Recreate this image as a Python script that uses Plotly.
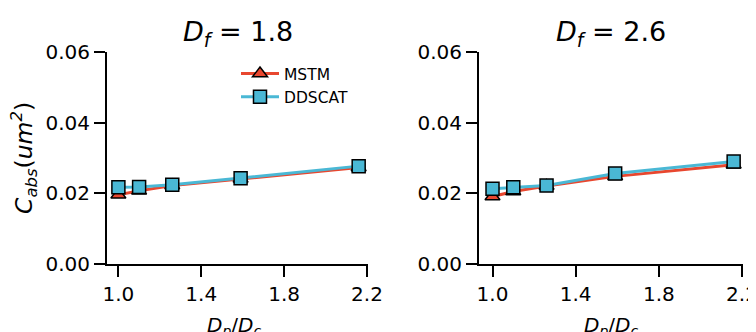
import plotly.graph_objects as go

x_vals = [1.0, 1.1, 1.26, 1.59, 2.16]
mstm_18 = [0.0196, 0.0207, 0.0222, 0.0241, 0.0273]
ddscat_18 = [0.0217, 0.0218, 0.0224, 0.0243, 0.0277]
mstm_26 = [0.0191, 0.0205, 0.0221, 0.0248, 0.0281]
ddscat_26 = [0.0213, 0.0217, 0.0222, 0.0256, 0.0290]
titles = ["<i>D<sub>f</sub></i> = 1.8", "<i>D<sub>f</sub></i> = 2.6"]
x_ticks = [1.0, 1.4, 1.8, 2.2]
x_tick_text = ["1.0", "1.4", "1.8", "2.2"]
y_ticks = [0.0, 0.02, 0.04, 0.06]
y_tick_text = ["0.00", "0.02", "0.04", "0.06"]

RED = "#e8472f"
BLUE = "#4ab8d5"
FONT = "DejaVu Sans"

# page body has an 8px margin; size and place the figure accordingly
OFF = 8
W, H = 756 - OFF, 332 - OFF


def px(x):
    return (x - OFF) / W


def py(y):
    return 1 - (y - OFF) / H


fig = go.Figure()

panels = [("x", "y", mstm_18, ddscat_18, True), ("x2", "y2", mstm_26, ddscat_26, False)]
for xa, ya, m, d, show in panels:
    fig.add_trace(go.Scatter(
        x=x_vals, y=m, xaxis=xa, yaxis=ya, name="MSTM", mode="lines+markers",
        line=dict(color=RED, width=3),
        marker=dict(symbol="triangle-up", size=13, color=RED, line=dict(color="black", width=1.5)),
        showlegend=show, legendgroup="m"))
    fig.add_trace(go.Scatter(
        x=x_vals, y=d, xaxis=xa, yaxis=ya, name="DDSCAT", mode="lines+markers",
        line=dict(color=BLUE, width=3),
        marker=dict(symbol="square", size=13, color=BLUE, line=dict(color="black", width=1.5)),
        showlegend=show, legendgroup="d"))

ydom = [py(264), py(52)]
ax_common = dict(showline=True, linecolor="black", linewidth=2, ticks="outside",
                 ticklen=11, tickwidth=2, tickcolor="black", showgrid=False, zeroline=False,
                 automargin=False, ticklabeloverflow="allow",
                 tickfont=dict(family=FONT, size=20, color="black"))
fig.update_layout(
    template="none",
    width=W, height=H, margin=dict(l=0, r=0, t=0, b=0, pad=0),
    paper_bgcolor="white", plot_bgcolor="white",
    xaxis=dict(domain=[px(107), px(368)], range=[0.945, 2.205], tickvals=x_ticks,
               ticktext=x_tick_text, anchor="y", **ax_common),
    yaxis=dict(domain=ydom, range=[0, 0.06], tickvals=y_ticks,
               ticktext=y_tick_text, anchor="x", **ax_common),
    xaxis2=dict(domain=[px(479), px(743)], range=[0.935, 2.205], tickvals=x_ticks,
                ticktext=x_tick_text, anchor="y2", **ax_common),
    yaxis2=dict(domain=ydom, range=[0, 0.06], tickvals=y_ticks,
                ticktext=y_tick_text, anchor="x2", **ax_common),
    legend=dict(x=px(236), y=py(57), xanchor="left", yanchor="top",
                font=dict(family=FONT, size=15.5, color="black"), bgcolor="rgba(0,0,0,0)",
                tracegroupgap=0, itemwidth=38, borderwidth=0),
    showlegend=True,
)

annots = []
for cx, t in [(238, titles[0]), (611, titles[1])]:
    annots.append(dict(x=px(cx), y=py(33), xref="paper", yref="paper", text=t,
                       showarrow=False, xanchor="center", yanchor="middle",
                       font=dict(family=FONT, size=27, color="black")))
for cx in [234, 611]:
    annots.append(dict(x=px(cx), y=py(326), xref="paper", yref="paper",
                       text="<i>D<sub>p</sub></i>/<i>D<sub>c</sub></i>",
                       showarrow=False, xanchor="center", yanchor="middle",
                       font=dict(family=FONT, size=20, color="black")))
annots.append(dict(x=px(24), y=py(158), xref="paper", yref="paper",
                   text="<i>C<sub>abs</sub></i>(<i>um<sup>2</sup></i>)", textangle=-90,
                   showarrow=False, xanchor="center", yanchor="middle",
                   font=dict(family=FONT, size=23.5, color="black")))
fig.update_layout(annotations=annots)

fig.write_html("out.html")
